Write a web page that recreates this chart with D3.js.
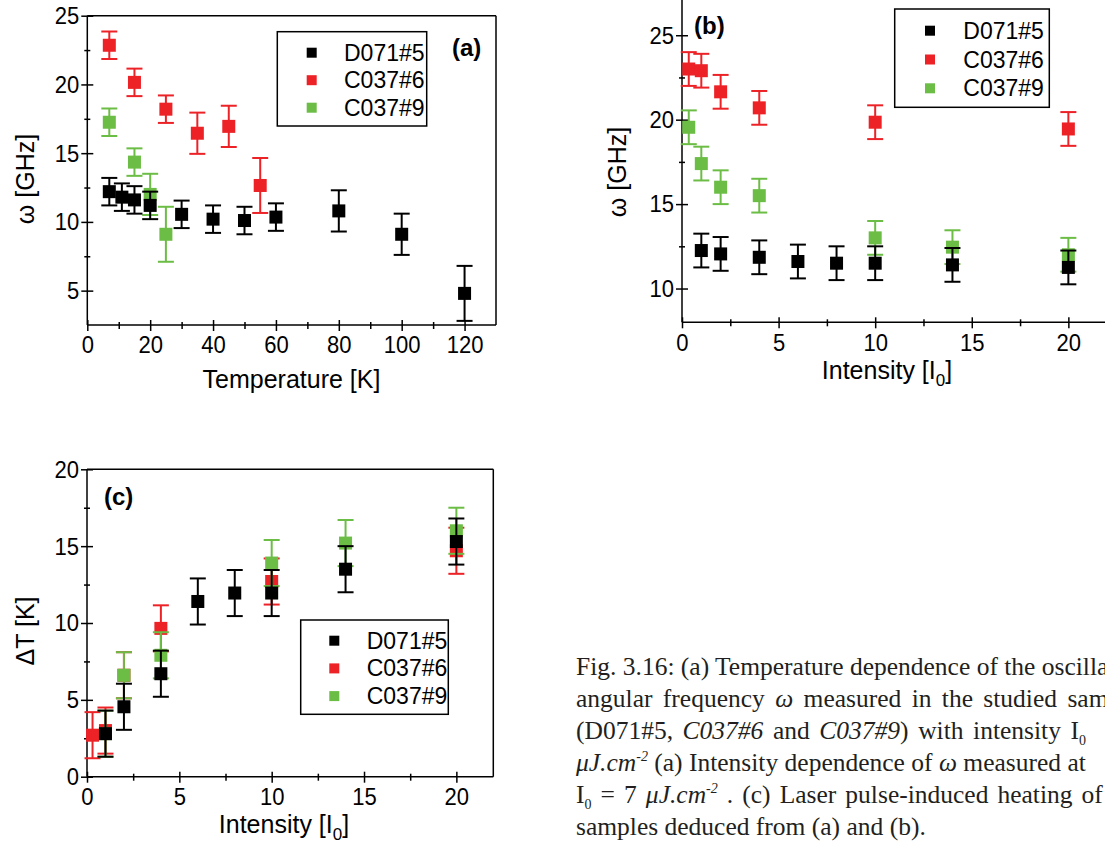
<!DOCTYPE html>
<html><head><meta charset="utf-8">
<script src="https://cdn.jsdelivr.net/npm/d3@7"></script>
<style>
html,body{margin:0;padding:0;background:#fff;overflow:hidden}
svg{display:block}
text{font-family:"Liberation Sans",Arial,sans-serif;fill:#000}
.cap{font-family:"Liberation Serif","Times New Roman",serif;font-size:25.5px;fill:#231f20}
</style></head>
<body>
<svg id="fig" width="1105" height="847"></svg>
<script>
// ---------------- data ----------------
const seriesNames = ["D071#5", "C037#6", "C037#9"];
const seriesColors = ["#000000", "#ec2227", "#6cbd45"];

// Panel (a): omega vs temperature
const aBlackT = [7, 11, 15, 20, 30, 40, 50, 60, 80, 100, 120];
const aBlackW = [12.2, 11.8, 11.6, 11.2, 10.55, 10.2, 10.1, 10.35, 10.8, 9.1, 4.8];
const aBlackE = [1, 1, 1, 1, 1, 1, 1, 1, 1.5, 1.5, 2];
const aRedT = [7, 15, 25, 35, 45, 55];
const aRedW = [22.85, 20.15, 18.2, 16.45, 16.95, 12.65];
const aRedE = [1, 1, 1, 1.5, 1.5, 2];
const aGreenT = [7, 15, 20, 25];
const aGreenW = [17.25, 14.35, 12.0, 9.1];
const aGreenE = [1, 1, 1.5, 2];

// Panel (b): omega vs intensity
const bBlackI = [1, 2, 4, 6, 8, 10, 14, 20];
const bBlackW = [12.25, 12.05, 11.85, 11.6, 11.5, 11.5, 11.4, 11.25];
const bBlackE = [1, 1, 1, 1, 1, 1, 1, 1];
const bRedI = [0.35, 1, 2, 4, 10, 20];
const bRedW = [23.0, 22.9, 21.65, 20.7, 19.85, 19.45];
const bRedE = [1, 1, 1, 1, 1, 1];
const bGreenI = [0.35, 1, 2, 4, 10, 14, 20];
const bGreenW = [19.55, 17.4, 16.0, 15.5, 13.0, 12.45, 12.0];
const bGreenE = [1, 1, 1, 1, 1, 1, 1];

// Panel (c): delta T vs intensity
const cBlackI = [1, 2, 4, 6, 8, 10, 14, 20];
const cBlackT = [2.8, 4.55, 6.7, 11.4, 11.95, 11.95, 13.5, 15.3];
const cBlackE = [1.5, 1.5, 1.5, 1.5, 1.5, 1.5, 1.5, 1.5];
const cRedI = [0.3, 1, 2, 4, 10, 20];
const cRedT = [2.7, 3.0, 6.6, 9.65, 12.7, 14.7];
const cRedE = [1.5, 1.5, 1.5, 1.5, 1.5, 1.5];
const cGreenI = [1, 2, 4, 10, 14, 20];
const cGreenT = [2.8, 6.6, 7.9, 13.9, 15.2, 16.0];
const cGreenE = [1.5, 1.5, 1.5, 1.5, 1.5, 1.5];

// tick values
const aXMajor = [0, 20, 40, 60, 80, 100, 120], aXMinor = [10, 30, 50, 70, 90, 110];
const aYMajor = [5, 10, 15, 20, 25], aYMinor = [7.5, 12.5, 17.5, 22.5];
const bXMajor = [0, 5, 10, 15, 20], bXMinor = [2.5, 7.5, 12.5, 17.5];
const bYMajor = [10, 15, 20, 25], bYMinor = [12.5, 17.5, 22.5];
const cXMajor = [0, 5, 10, 15, 20], cXMinor = [2.5, 7.5, 12.5, 17.5];
const cYMajor = [0, 5, 10, 15, 20], cYMinor = [2.5, 7.5, 12.5, 17.5];

// caption (as visible in the cropped figure)
const captionLines = [
  [["Fig. 3.16: (a) Temperature dependence of the oscilla", ""]],
  [["angular frequency ", ""], ["ω", "i"], [" measured in the studied sam", ""]],
  [["(D071#5, ", ""], ["C037#6", "i"], [" and ", ""], ["C037#9", "i"], [") with intensity I", ""], ["0", "sub"]],
  [["μJ.cm", "i"], ["-2", "supi"], [" (a) Intensity dependence of ", ""], ["ω", "i"], [" measured at", ""]],
  [["I", ""], ["0", "sub"], [" = 7 ", ""], ["μJ.cm", "i"], ["-2", "supi"], [" . (c) Laser pulse-induced heating of", ""]],
  [["samples deduced from (a) and (b).", ""]]
];
const captionWordSpacing = [0, 4, 3.2, 0, 2.7, 0];

// ---------------- drawing ----------------
const svg = d3.select("#fig");

function makeSeries(xs, ys, es) { return xs.map((x, i) => ({x: x, y: ys[i], e: es[i]})); }

function panel(cfg) {
  const x = d3.scaleLinear().domain(cfg.xDom).range(cfg.xRange);
  const y = d3.scaleLinear().domain(cfg.yDom).range(cfg.yRange);
  const g = svg.append("g");
  const x0 = cfg.xRange[0], x1 = cfg.xRange[1], y0 = cfg.yRange[0], y1 = cfg.yRange[1];

  // frame
  g.append("line").attr("x1", x0).attr("x2", x1).attr("y1", y1).attr("y2", y1)
    .attr("stroke", "#000").attr("stroke-width", 1.5);
  g.append("line").attr("x1", x1).attr("x2", x1).attr("y1", y0).attr("y2", y1)
    .attr("stroke", "#000").attr("stroke-width", 1.5);

  // axes
  const xa = g.append("g").attr("transform", `translate(0,${y0})`)
    .call(d3.axisBottom(x).tickValues(cfg.xMajor).tickSize(5).tickPadding(6).tickFormat(d3.format("d")));
  const xm = g.append("g").attr("transform", `translate(0,${y0})`)
    .call(d3.axisBottom(x).tickValues(cfg.xMinor).tickSize(3).tickFormat(""));
  const ya = g.append("g").attr("transform", `translate(${x0},0)`)
    .call(d3.axisLeft(y).tickValues(cfg.yMajor).tickSize(5).tickPadding(3).tickFormat(d3.format("d")));
  const ym = g.append("g").attr("transform", `translate(${x0},0)`)
    .call(d3.axisLeft(y).tickValues(cfg.yMinor).tickSize(3).tickFormat(""));
  [xa, xm, ya, ym].forEach(a => {
    a.select(".domain").remove();
    a.selectAll("line").attr("stroke", "#000").attr("stroke-width", 1.5);
  });
  xa.selectAll("line").attr("y1", -5).attr("y2", 6);
  xm.selectAll("line").attr("y1", -3).attr("y2", 4);
  ya.selectAll("line").attr("x1", 6).attr("x2", -6);
  ym.selectAll("line").attr("x1", 3).attr("x2", -3);
  [xa, ya].forEach(a => a.selectAll("text")
    .attr("font-size", 24.5).attr("font-family", "Liberation Sans, Arial, sans-serif").attr("fill", "#000"));
  // slightly condensed tick digits, as in the original
  xa.selectAll("text").attr("transform", "scale(0.9,1)");
  ya.selectAll("text").attr("x", -9).attr("transform", "scale(0.9,1)");
  // axis lines
  g.append("line").attr("x1", x0).attr("x2", x1).attr("y1", y0).attr("y2", y0).attr("stroke", "#000").attr("stroke-width", 1.5);
  g.append("line").attr("x1", x0).attr("x2", x0).attr("y1", y0).attr("y2", y1).attr("stroke", "#000").attr("stroke-width", 1.5);

  // data: red, green, black (black on top)
  const order = [1, 2, 0];
  order.forEach(si => {
    const data = cfg.series[si];
    const col = seriesColors[si];
    const s = g.append("g");
    const eb = s.selectAll("g.eb").data(data).join("g");
    eb.append("line").attr("x1", d => x(d.x)).attr("x2", d => x(d.x))
      .attr("y1", d => y(d.y + d.e)).attr("y2", d => y(d.y - d.e))
      .attr("stroke", col).attr("stroke-width", 2);
    eb.append("line").attr("x1", d => x(d.x) - 8).attr("x2", d => x(d.x) + 8)
      .attr("y1", d => y(d.y + d.e)).attr("y2", d => y(d.y + d.e))
      .attr("stroke", col).attr("stroke-width", 2);
    eb.append("line").attr("x1", d => x(d.x) - 8).attr("x2", d => x(d.x) + 8)
      .attr("y1", d => y(d.y - d.e)).attr("y2", d => y(d.y - d.e))
      .attr("stroke", col).attr("stroke-width", 2);
    s.selectAll("rect.m").data(data).join("rect")
      .attr("x", d => x(d.x) - 6.5).attr("y", d => y(d.y) - 6.5)
      .attr("width", 13).attr("height", 13).attr("fill", col);
  });

  // legend
  const L = cfg.legend;
  g.append("rect").attr("x", L.x).attr("y", L.y).attr("width", L.w).attr("height", L.h)
    .attr("fill", "#fff").attr("stroke", "#000").attr("stroke-width", 1.5);
  seriesNames.forEach((n, i) => {
    const cy = L.y + L.r0 + i * L.dr;
    g.append("rect").attr("x", L.mx - 5).attr("y", cy - 5).attr("width", 10).attr("height", 10).attr("fill", seriesColors[i]);
    g.append("text").attr("x", L.tx).attr("y", cy + 8).attr("font-size", 23).text(n);
  });

  // panel label
  g.append("text").attr("x", cfg.label.x).attr("y", cfg.label.y).attr("font-size", 24)
    .attr("font-weight", "bold").text(cfg.label.t);

  // x title
  const xt = g.append("text").attr("x", cfg.xTitle.x).attr("y", cfg.xTitle.y).attr("font-size", 25)
    .attr("text-anchor", "middle");
  if (cfg.xTitle.sub) {
    xt.append("tspan").text(cfg.xTitle.t);
    xt.append("tspan").attr("font-size", 17).attr("dy", 7).text(cfg.xTitle.sub);
    xt.append("tspan").attr("dy", -7).text("]");
  } else xt.text(cfg.xTitle.t);

  // y title
  g.append("text").attr("transform", `translate(${cfg.yTitle.x},${cfg.yTitle.y}) rotate(-90)`)
    .attr("font-size", 25).attr("text-anchor", "middle").text(cfg.yTitle.t);
}

panel({
  id: "a",
  xDom: [0, 130], xRange: [87.3, 496],
  yDom: [2.5, 25], yRange: [325, 15.7],
  xMajor: aXMajor, xMinor: aXMinor, yMajor: aYMajor, yMinor: aYMinor,
  series: [makeSeries(aBlackT, aBlackW, aBlackE), makeSeries(aRedT, aRedW, aRedE), makeSeries(aGreenT, aGreenW, aGreenE)],
  legend: {x: 277.3, y: 31.7, w: 149.4, h: 94.3, r0: 21, dr: 27.5, mx: 311.7, tx: 344},
  label: {x: 452, y: 56, t: "(a)"},
  xTitle: {x: 291.5, y: 388, t: "Temperature [K]"},
  yTitle: {x: 33.5, y: 179, t: "ω [GHz]"}
});

panel({
  id: "b",
  xDom: [0, 22], xRange: [682, 1107],
  yDom: [8, 27.2], yRange: [322.3, -1.9],
  xMajor: bXMajor, xMinor: bXMinor, yMajor: bYMajor, yMinor: bYMinor,
  series: [makeSeries(bBlackI, bBlackW, bBlackE), makeSeries(bRedI, bRedW, bRedE), makeSeries(bGreenI, bGreenW, bGreenE)],
  legend: {x: 894.7, y: 9, w: 154.6, h: 98.3, r0: 21.7, dr: 28.8, mx: 930, tx: 963.3},
  label: {x: 694, y: 34, t: "(b)"},
  xTitle: {x: 887, y: 379, t: "Intensity [I", sub: "0"},
  yTitle: {x: 626, y: 172, t: "ω [GHz]"}
});

panel({
  id: "c",
  xDom: [0, 22], xRange: [87, 493.3],
  yDom: [0, 20], yRange: [776.7, 469.3],
  xMajor: cXMajor, xMinor: cXMinor, yMajor: cYMajor, yMinor: cYMinor,
  series: [makeSeries(cBlackI, cBlackT, cBlackE), makeSeries(cRedI, cRedT, cRedE), makeSeries(cGreenI, cGreenT, cGreenE)],
  legend: {x: 300.7, y: 620, w: 147.6, h: 94.3, r0: 20.7, dr: 27.7, mx: 334.3, tx: 366.7},
  label: {x: 104, y: 505, t: "(c)"},
  xTitle: {x: 284, y: 833, t: "Intensity [I", sub: "0"},
  yTitle: {x: 34, y: 631, t: "ΔT [K]"}
});

// caption
const capX = 576, capY0 = 675, capDY = 32;
captionLines.forEach((parts, li) => {
  const t = svg.append("text").attr("class", "cap").attr("x", capX).attr("y", capY0 + li * capDY)
    .attr("xml:space", "preserve").attr("word-spacing", captionWordSpacing[li]);
  let shift = 0;
  parts.forEach(([s, st]) => {
    const ts = t.append("tspan").text(s);
    let target = 0;
    if (st === "i") ts.attr("font-style", "italic");
    if (st === "sub") { ts.attr("font-size", 14); target = 6; }
    if (st === "supi") { ts.attr("font-style", "italic").attr("font-size", 14); target = -10; }
    if (target !== shift) { ts.attr("dy", target - shift); shift = target; }
  });
});
</script>
</body></html>
